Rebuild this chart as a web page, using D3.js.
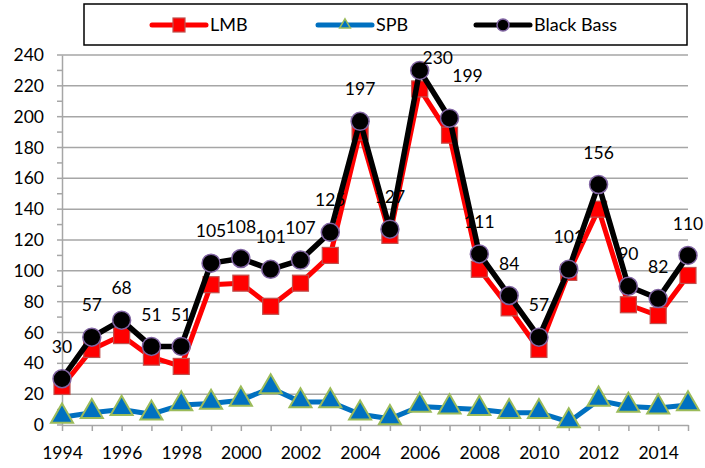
<!DOCTYPE html>
<html>
<head>
<meta charset="utf-8">
<script src="https://cdn.jsdelivr.net/npm/d3@7"></script>
<style>
  html, body { margin: 0; padding: 0; background: #fff; }
  svg { display: block; font-family: Lato, "Open Sans", sans-serif; }
</style>
</head>
<body>
<div id="chart"></div>
<script>
const years = d3.range(1994, 2016);
const lmb = [25, 49, 58, 44, 38, 91, 92, 77, 92, 110, 190, 123, 218, 188, 101, 76, 49, 99, 140, 78, 71, 97];
const spb = [5, 8, 10, 7, 13, 14, 16, 24, 15, 15, 7, 4, 12, 11, 10, 8, 8, 2, 16, 12, 11, 13];
const blackBass = [30, 57, 68, 51, 51, 105, 108, 101, 107, 125, 197, 127, 230, 199, 111, 84, 57, 101, 156, 90, 82, 110];
const yTicks = d3.range(0, 241, 20);
const xTickLabels = years.filter(y => y % 2 === 0);
// a couple of labels were dragged aside in the original
const labelNudge = { 2006: [18, -13], 2007: [18, -42] };

const width = 705, height = 468;
const margin = { top: 55, right: 17, bottom: 43, left: 62 };
const w = width - margin.left - margin.right;
const h = height - margin.top - margin.bottom;

const svg = d3.select('#chart').append('svg').attr('width', width).attr('height', height);
const g = svg.append('g').attr('transform', `translate(${margin.left},${margin.top})`);

const x = d3.scalePoint().domain(years).range([0, w]);
const y = d3.scaleLinear().domain([0, 240]).range([h, 0]);

// gridlines
g.append('g').selectAll('line').data(yTicks.filter(d => d > 0)).enter().append('line')
  .attr('x1', 0).attr('x2', w).attr('y1', d => y(d)).attr('y2', d => y(d))
  .attr('stroke', '#a6a6a6').attr('stroke-width', 1.5);

// y axis
const yAxis = g.append('g').call(d3.axisLeft(y).tickValues(yTicks).tickSize(0).tickPadding(18));
yAxis.select('.domain').attr('stroke', '#a6a6a6').attr('stroke-width', 1.5);
yAxis.selectAll('text').attr('font-size', 17.5).attr('fill', '#000').attr('font-family', 'Lato, sans-serif');
g.append('g').selectAll('line').data(d3.range(0, 241, 10)).enter().append('line')
  .attr('x1', -5).attr('x2', 0).attr('y1', d => y(d)).attr('y2', d => y(d))
  .attr('stroke', '#a6a6a6').attr('stroke-width', 1.5);

// x axis
const xAxis = g.append('g').attr('transform', `translate(0,${h})`)
  .call(d3.axisBottom(x).tickSize(6).tickSizeOuter(0).tickPadding(16)
    .tickFormat(d => xTickLabels.includes(d) ? d : ''));
xAxis.select('.domain').attr('stroke', '#a6a6a6').attr('stroke-width', 1.5);
xAxis.selectAll('.tick line').attr('stroke', '#a6a6a6').attr('stroke-width', 1.5);
xAxis.selectAll('text').attr('font-size', 17.5).attr('fill', '#000').attr('font-family', 'Lato, sans-serif');

const line = d3.line().x((d, i) => x(years[i])).y(d => y(d));

// LMB
g.append('path').datum(lmb).attr('d', line).attr('fill', 'none')
  .attr('stroke', '#ff0000').attr('stroke-width', 5).attr('stroke-linejoin', 'round');
g.append('g').selectAll('rect').data(lmb).enter().append('rect')
  .attr('x', (d, i) => x(years[i]) - 8).attr('y', d => y(d) - 8)
  .attr('width', 16).attr('height', 16)
  .attr('fill', '#ff0000').attr('stroke', '#c0504d').attr('stroke-width', 1.2);

// SPB
g.append('path').datum(spb).attr('d', line).attr('fill', 'none')
  .attr('stroke', '#0070c0').attr('stroke-width', 5).attr('stroke-linejoin', 'round');
const tri = d3.symbol().type(d3.symbolTriangle).size(210);
g.append('g').selectAll('path').data(spb).enter().append('path')
  .attr('d', tri).attr('transform', (d, i) => `translate(${x(years[i])},${y(d) - 1})`)
  .attr('fill', '#0070c0').attr('stroke', '#9bbb59').attr('stroke-width', 2);

// Black Bass
g.append('path').datum(blackBass).attr('d', line).attr('fill', 'none')
  .attr('stroke', '#000').attr('stroke-width', 5.5).attr('stroke-linejoin', 'round');
g.append('g').selectAll('circle').data(blackBass).enter().append('circle')
  .attr('cx', (d, i) => x(years[i])).attr('cy', d => y(d)).attr('r', 9)
  .attr('fill', '#000').attr('stroke', '#8064a2').attr('stroke-width', 1.5);

// data labels
g.append('g').selectAll('text').data(blackBass).enter().append('text')
  .attr('x', (d, i) => x(years[i]) + (labelNudge[years[i]] || [0, -32])[0])
  .attr('y', (d, i) => y(d) + (labelNudge[years[i]] || [0, -32])[1])
  .attr('dy', '0.35em').attr('text-anchor', 'middle')
  .attr('font-size', 17.5).attr('fill', '#000')
  .text(d => d);

// legend
const legend = svg.append('g');
legend.append('rect').attr('x', 84).attr('y', 4).attr('width', 603).attr('height', 41)
  .attr('fill', '#fff').attr('stroke', '#000').attr('stroke-width', 1.5);
const items = [
  { name: 'LMB', x0: 152, color: '#ff0000' },
  { name: 'SPB', x0: 318, color: '#0070c0' },
  { name: 'Black Bass', x0: 476, color: '#000' }
];
const ly = 25;
items.forEach((it, k) => {
  const lg = legend.append('g');
  lg.append('line').attr('x1', it.x0).attr('x2', it.x0 + 54).attr('y1', ly).attr('y2', ly)
    .attr('stroke', it.color).attr('stroke-width', 5).attr('stroke-linecap', 'round');
  const cx = it.x0 + 27;
  if (k === 0) {
    lg.append('rect').attr('x', cx - 6).attr('y', ly - 7).attr('width', 12).attr('height', 14)
      .attr('fill', '#ff0000').attr('stroke', '#c0504d').attr('stroke-width', 1.2);
  } else if (k === 1) {
    lg.append('path').attr('d', d3.symbol().type(d3.symbolTriangle).size(50))
      .attr('transform', `translate(${cx},${ly})`)
      .attr('fill', '#0070c0').attr('stroke', '#9bbb59').attr('stroke-width', 1.5);
  } else {
    lg.append('circle').attr('cx', cx).attr('cy', ly).attr('r', 6)
      .attr('fill', '#000').attr('stroke', '#8064a2').attr('stroke-width', 1.5);
  }
  lg.append('text').attr('x', it.x0 + 58).attr('y', ly).attr('dy', '0.35em')
    .attr('font-size', 18).attr('fill', '#000').text(it.name);
});
</script>
</body>
</html>
